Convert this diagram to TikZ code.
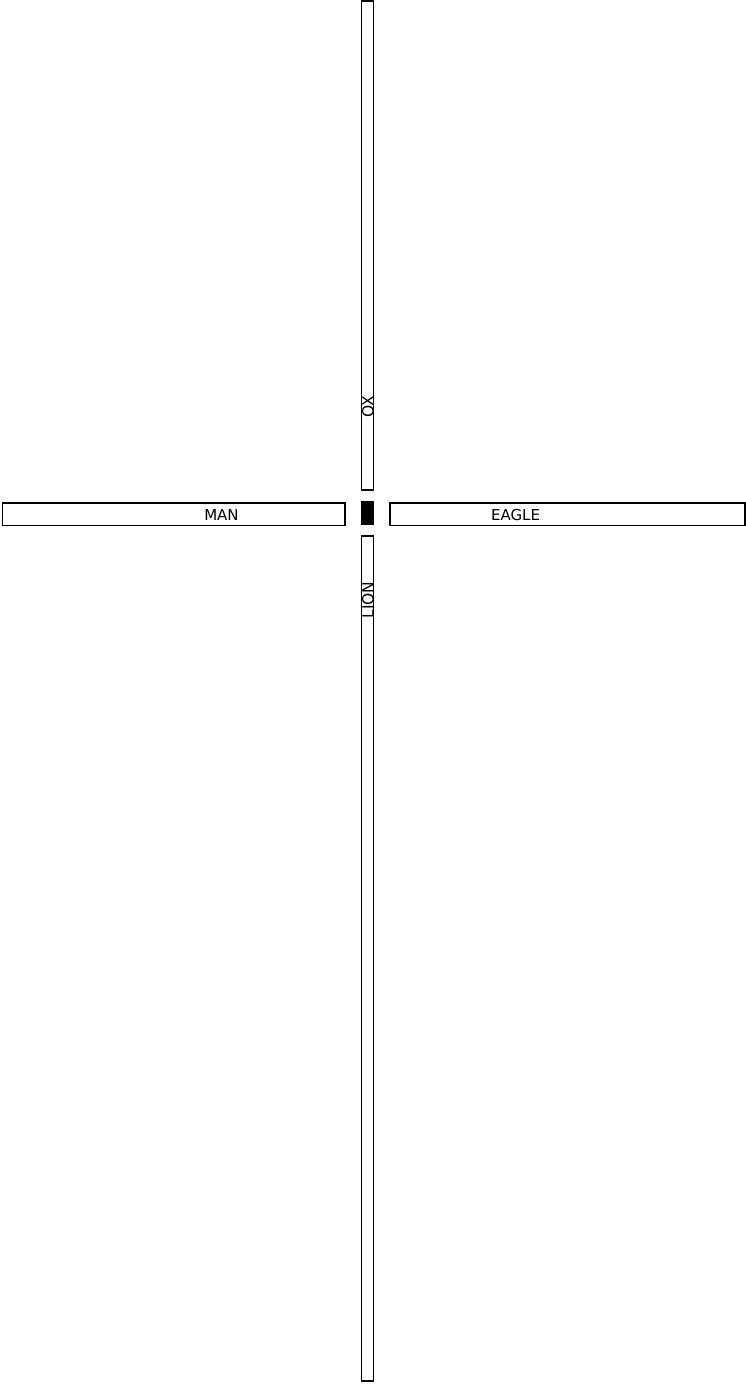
\documentclass[tikz,border=0pt]{standalone}
\usepackage{fontspec}
\setmainfont{DejaVu Sans}
\begin{document}
\begin{tikzpicture}[x=1pt,y=-1pt,
  bar/.style={draw=black,line width=1.4pt,fill=white},
  lbl/.style={font=\fontsize{15}{15}\selectfont,inner sep=0pt},
  vlbl/.style={font=\fontsize{15.5}{15.5}\selectfont,inner sep=0pt,rotate=90}]
\useasboundingbox[fill=white] (0,0) rectangle (746,1384);
\draw[bar] (361.5,1) rectangle (373.5,490);
\draw[bar] (361.5,536) rectangle (373.5,1381);
\draw[bar] (2.5,503) rectangle (345,525.5);
\draw[bar] (390,503) rectangle (745,525.5);
\draw[draw=black,line width=1.4pt,fill=black] (361.5,501.5) rectangle (373.5,524.5);
\node[lbl] (man) at (221.5,515) {MAN};
\node[lbl] (eagle) at (515.5,515) {EAGLE};
\node[vlbl] (ox) at (368,407) {OX};
\node[vlbl] (lion) at (368,600) {LION};
\end{tikzpicture}
\end{document}
